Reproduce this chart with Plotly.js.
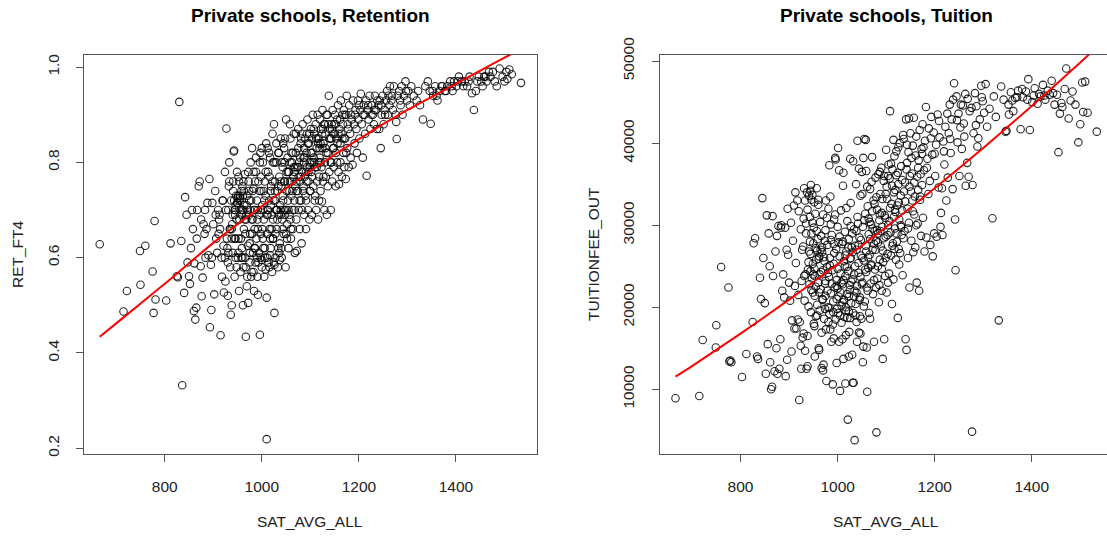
<!DOCTYPE html>
<html>
<head>
<meta charset="utf-8">
<script src="https://cdn.plot.ly/plotly-3.0.1.min.js"></script>
<style>
  html, body { margin: 0; padding: 0; overflow: hidden; background: #fff; }
  #chart { width: 1107px; height: 537px; }
</style>
</head>
<body>
<div id="chart"></div>
<script>
// SAT average of each private school (shared by both panels)
const satAvg = [
  666,715,722,749,750,760,775,777,779,781,
  803,812,825,827,830,834,836,840,842,845,
  847,850,852,854,856,858,860,861,863,865,
  867,870,872,874,875,876,878,880,882,884,
  886,888,890,892,893,895,896,898,900,902,
  904,906,908,910,912,914,915,917,919,921,
  922,924,925,927,928,930,931,933,934,936,
  937,938,940,941,942,943,944,945,946,947,
  948,949,950,951,952,953,954,955,956,957,
  958,959,960,961,962,963,964,965,966,967,
  968,969,970,971,972,973,974,975,976,977,
  978,979,980,981,982,983,984,985,986,987,
  988,989,990,991,992,993,994,995,996,997,
  998,999,1000,1001,1002,1003,1004,1005,1006,1007,
  1008,1009,1010,1010,1011,1012,1013,1014,1015,1016,
  1017,1018,1019,1020,1021,1022,1023,1024,1025,1026,
  1027,1028,1029,1030,1031,1032,1033,1034,1035,1036,
  1037,1038,1039,1040,1041,1042,1043,1044,1045,1046,
  1047,1048,1049,1050,1051,1052,1053,1054,1055,1056,
  1057,1058,1059,1060,1061,1062,1063,1064,1065,1066,
  1067,1068,1069,1070,1071,1072,1073,1074,1075,1076,
  1077,1078,1079,1080,1081,1082,1083,1084,1085,1086,
  1087,1088,1089,1090,1091,1092,1093,1094,1095,1096,
  1097,1098,1099,1100,1101,1102,1103,1104,1105,1106,
  1107,1108,1109,1110,1111,1112,1113,1114,1115,1116,
  1117,1118,1119,1120,1121,1122,1123,1124,1125,1126,
  1127,1128,1129,1130,1131,1132,1133,1134,1136,1138,
  1139,1140,1141,1142,1143,1144,1145,1146,1147,1148,
  1150,1151,1152,1153,1155,1156,1157,1158,1159,1160,
  1162,1163,1164,1165,1167,1168,1169,1170,1172,1173,
  1174,1175,1176,1178,1179,1180,1182,1183,1185,1187,
  1188,1190,1191,1193,1195,1196,1198,1199,1201,1203,
  1204,1206,1208,1210,1212,1213,1215,1216,1218,1220,
  1222,1224,1227,1229,1231,1233,1235,1237,1240,1242,
  1243,1245,1247,1249,1251,1253,1256,1258,1260,1263,
  1264,1267,1270,1272,1276,1277,1278,1280,1283,1286,
  1288,1290,1293,1296,1299,1302,1305,1308,1313,1319,
  1322,1326,1332,1337,1342,1346,1348,1353,1357,1362,
  1366,1372,1377,1382,1388,1393,1396,1401,1406,1412,
  1418,1423,1428,1433,1437,1441,1447,1452,1455,1458,
  1463,1468,1471,1476,1480,1484,1490,1496,1500,1504,
  1506,1510,1515,1534,
  926,929,932,935,939,943,946,949,952,955,
  958,960,963,966,969,972,975,978,981,984,
  986,988,991,993,995,998,1000,1002,1005,1008,
  1011,1013,1015,1018,1020,1022,1025,1027,1030,1032,
  1034,1036,1039,1041,1043,1046,1048,1051,1054,1057,
  1059,1062,1064,1067,1069,1072,1075,1078,1080,1083,
  1086,1088,1091,1093,1096,1099,1101,1104,1107,1110,
  1113,1116,1118,1121,1124,1127,1130,1133,1136,1139,
  1142,1145,1148,1152,1155,1158,1162,1166,1170,1174,
  950,951,953,955,946,944,938,940,935,931,
  905,911,918,924,930,938,952,962,970,985,
  992,998,1003,1016,1023,1031,1040,1047,1052,1060,
  866,883,897,913,920,933,945,960,976,983,
  996,1012,1026,1044,1053,1058,1115,1125,1135,1147,
  962,968,974,980,986,992,998,1004,1010,1016,
  1019,1023,1027,1031,1035,1039,1043,1047,1051,1055,
  1059,1063,1067,1071,1075,1079,1083,1087,1091,1095,
  1099,1103,1108,1112,1117,1121,1126,1131,1137,1143,
  941,944,948,953,957,961,965,970,974,979,
  1001,1006,1012,1017,1023,1028,1034,1039,1045,1050,
  1061,1066,1070,1076,1081,1087,1092,1098,1104,1119,
  1149,1154,1161,1166,1171,1177,1184,1192,1200,1209,
  1219,1226,1232,1238,1246,1254,1261,1268,1285,1297,
  1352,1360,1370,1380,1391,1404,1415,1426,1444,1461,
  958,967,975,983,990,1000,1008,1017,1026,1037
];

// RET_FT4 (retention), same order as satAvg
const retFt4 = [
  0.628,0.487,0.530,0.614,0.543,0.625,0.571,0.484,0.677,0.512,
  0.510,0.630,0.561,0.559,0.927,0.635,0.332,0.526,0.727,0.690,
  0.590,0.561,0.545,0.620,0.700,0.660,0.488,0.588,0.470,0.495,
  0.700,0.750,0.760,0.582,0.680,0.519,0.558,0.670,0.650,0.600,
  0.660,0.715,0.605,0.765,0.454,0.585,0.490,0.715,0.670,0.523,
  0.740,0.640,0.610,0.700,0.680,0.660,0.437,0.600,0.720,0.625,
  0.527,0.780,0.550,0.871,0.640,0.590,0.700,0.800,0.660,0.480,
  0.720,0.500,0.610,0.760,0.823,0.825,0.560,0.690,0.640,0.730,
  0.580,0.715,0.725,0.600,0.770,0.530,0.680,0.720,0.570,0.640,
  0.740,0.620,0.700,0.500,0.580,0.660,0.710,0.775,0.600,0.434,
  0.680,0.540,0.730,0.625,0.505,0.760,0.690,0.590,0.650,0.800,
  0.720,0.570,0.830,0.680,0.610,0.745,0.530,0.660,0.700,0.590,
  0.780,0.640,0.720,0.560,0.522,0.760,0.610,0.690,0.438,0.820,
  0.650,0.740,0.580,0.710,0.800,0.620,0.680,0.560,0.760,0.600,
  0.730,0.840,0.219,0.516,0.650,0.700,0.780,0.590,0.720,0.660,
  0.810,0.620,0.750,0.690,0.570,0.860,0.640,0.720,0.880,0.484,
  0.760,0.600,0.700,0.800,0.660,0.740,0.580,0.820,0.690,0.770,
  0.630,0.710,0.850,0.750,0.600,0.680,0.790,0.720,0.650,0.830,
  0.760,0.700,0.580,0.890,0.740,0.670,0.810,0.720,0.620,0.780,
  0.690,0.760,0.850,0.640,0.730,0.800,0.700,0.660,0.770,0.860,
  0.720,0.610,0.750,0.820,0.680,0.614,0.790,0.740,0.870,0.700,
  0.800,0.660,0.760,0.840,0.720,0.630,0.780,0.880,0.740,0.810,
  0.690,0.770,0.850,0.730,0.660,0.820,0.790,0.890,0.700,0.760,
  0.840,0.680,0.800,0.740,0.870,0.780,0.690,0.820,0.900,0.750,
  0.810,0.860,0.720,0.790,0.880,0.700,0.830,0.760,0.900,0.680,
  0.850,0.770,0.810,0.890,0.740,0.870,0.790,0.718,0.910,0.760,
  0.840,0.880,0.700,0.800,0.860,0.770,0.900,0.690,0.820,0.940,
  0.780,0.870,0.850,0.700,0.800,0.880,0.760,0.910,0.830,0.790,
  0.860,0.900,0.750,0.820,0.890,0.840,0.920,0.780,0.754,0.870,
  0.800,0.930,0.860,0.770,0.880,0.820,0.910,0.790,0.850,0.765,
  0.900,0.940,0.830,0.870,0.790,0.920,0.860,0.810,0.890,0.795,
  0.930,0.880,0.840,0.910,0.870,0.820,0.930,0.890,0.850,0.910,
  0.944,0.880,0.810,0.920,0.900,0.860,0.930,0.772,0.910,0.890,
  0.940,0.870,0.920,0.900,0.880,0.940,0.910,0.870,0.920,0.870,
  0.930,0.830,0.900,0.940,0.880,0.910,0.930,0.950,0.900,0.920,
  0.960,0.930,0.910,0.960,0.900,0.885,0.849,0.940,0.950,0.920,
  0.960,0.900,0.940,0.970,0.930,0.950,0.920,0.960,0.940,0.930,
  0.950,0.920,0.890,0.960,0.970,0.950,0.881,0.940,0.960,0.930,
  0.950,0.960,0.950,0.960,0.970,0.950,0.970,0.960,0.980,0.970,
  0.970,0.960,0.980,0.945,0.910,0.950,0.980,0.970,0.960,0.980,
  0.970,0.990,0.980,0.990,0.970,0.960,0.997,0.980,0.970,0.990,
  0.975,0.995,0.985,0.967,
  0.700,0.620,0.750,0.580,0.670,0.720,0.600,0.780,0.640,0.730,
  0.690,0.600,0.740,0.650,0.710,0.780,0.630,0.560,0.740,0.700,
  0.620,0.810,0.680,0.590,0.740,0.700,0.830,0.640,0.720,0.780,
  0.600,0.700,0.820,0.740,0.660,0.760,0.590,0.720,0.840,0.680,
  0.750,0.610,0.700,0.800,0.660,0.760,0.850,0.700,0.780,0.740,
  0.680,0.760,0.820,0.700,0.790,0.740,0.830,0.720,0.770,0.860,
  0.750,0.810,0.720,0.860,0.780,0.740,0.820,0.770,0.870,0.730,
  0.790,0.840,0.720,0.800,0.860,0.770,0.880,0.820,0.750,0.850,
  0.800,0.870,0.830,0.880,0.800,0.860,0.840,0.900,0.850,0.820,
  0.715,0.730,0.705,0.725,0.710,0.640,0.640,0.690,0.660,0.610,
  0.690,0.650,0.560,0.600,0.520,0.660,0.610,0.700,0.560,0.620,
  0.660,0.600,0.700,0.580,0.640,0.700,0.620,0.690,0.640,0.660,
  0.640,0.700,0.600,0.690,0.720,0.760,0.700,0.750,0.700,0.780,
  0.800,0.830,0.800,0.840,0.760,0.880,0.850,0.830,0.900,0.860,
  0.760,0.690,0.720,0.650,0.760,0.700,0.770,0.740,0.690,0.770,
  0.710,0.800,0.740,0.700,0.820,0.760,0.730,0.800,0.780,0.700,
  0.800,0.740,0.780,0.760,0.790,0.810,0.700,0.830,0.780,0.840,
  0.790,0.850,0.800,0.850,0.800,0.840,0.870,0.830,0.880,0.850,
  0.740,0.700,0.680,0.760,0.700,0.730,0.680,0.700,0.740,0.680,
  0.660,0.620,0.690,0.640,0.680,0.650,0.620,0.690,0.700,0.650,
  0.820,0.790,0.860,0.770,0.850,0.800,0.760,0.860,0.800,0.830,
  0.880,0.850,0.890,0.850,0.900,0.880,0.900,0.900,0.920,0.900,
  0.920,0.900,0.910,0.930,0.920,0.900,0.940,0.940,0.930,0.950,
  0.950,0.940,0.960,0.950,0.960,0.970,0.960,0.970,0.970,0.980,
  0.600,0.580,0.610,0.570,0.600,0.595,0.575,0.605,0.585,0.595
];

// TUITIONFEE_OUT, same order as satAvg
const tuitionOut = [
  8900,9180,16000,15100,17800,24900,22400,13400,13500,13300,
  11500,14300,18200,27800,28400,14000,13700,23600,21000,33300,
  26000,20500,11900,31200,15500,29000,25000,13300,10000,10300,
  23800,12200,26800,15000,28700,11900,29900,12500,16100,30000,
  22000,24000,21200,29700,11600,27000,13600,26400,23000,20800,
  30300,18400,28100,32400,22600,25400,17400,33000,21500,8700,
  18200,29500,12500,27000,16300,30800,34500,14700,24000,12500,
  34000,16500,25500,33600,22800,31000,26500,19400,29000,23500,
  33700,21800,27800,18000,24700,14000,31400,22500,25800,34500,
  20300,28300,23000,15000,26200,19600,30400,22200,24300,12600,
  27300,21000,31300,13000,18600,25600,22900,29400,17300,11000,
  24900,27600,20000,32000,23700,19200,26000,33500,21700,15800,
  28800,24500,10600,20700,25300,30700,22400,38200,18500,27100,
  23300,19800,29800,39400,21300,36700,26200,9800,24100,31800,
  20200,27700,22800,16100,34800,13700,25600,18800,29200,23800,
  19600,26800,21600,30500,6300,24400,28300,17000,22100,25900,
  32700,20500,27300,14200,23400,37800,10800,29500,3800,25000,
  19000,35000,27000,22600,40300,30200,24200,16900,28500,21200,
  33600,26300,18600,36500,23000,29800,15200,25700,40500,20700,
  31400,27500,36600,22400,9700,32300,24800,28900,19300,26400,
  34400,22900,30100,25200,38300,27000,21600,33000,15800,29300,
  24600,35800,28100,4750,31900,23500,27900,36200,20600,30600,
  25800,33800,27400,37000,22000,29800,13700,25500,35400,16100,
  31200,23800,28600,39200,21800,33200,26500,30000,37400,24100,
  35700,43900,29100,26300,32600,20400,36800,27800,23400,31000,
  38400,29600,34300,25800,39000,28000,32400,18700,35000,27100,
  30700,40000,26600,33600,37200,28800,31800,23900,40500,29300,
  35200,16100,42900,14800,37600,32000,26000,38900,30300,22400,
  41200,34100,28100,36300,39700,26700,43100,31300,33500,27300,
  40800,23000,35900,30200,37900,22000,41600,33100,28700,39300,
  34900,42300,30900,36700,26800,40300,44400,28500,38100,33800,
  41800,35400,27600,43200,38600,26200,41300,29000,36000,39800,
  28600,43500,34600,40700,29800,31500,34500,28800,40200,37400,
  42000,33000,35800,41200,44700,38800,42900,34400,47300,30700,
  24500,45700,40100,43600,36000,41900,39300,44600,42400,46000,
  34800,37600,35900,43900,44300,4834,34900,41200,46100,44500,
  39600,40600,42900,47000,45100,43700,47200,42000,44200,30850,
  45700,43200,18400,46900,45300,41400,41500,43500,46200,43900,
  45500,46400,41700,45600,46300,47800,41600,45000,46700,44800,
  45700,47100,45300,46400,45900,47600,44700,45900,38900,43600,
  44400,46600,49100,43000,45200,46300,44700,40100,42300,47400,
  43800,47500,43700,41400,
  23200,27400,20800,30200,24600,28000,22100,25300,32800,18900,
  26900,33100,24000,28700,20900,26100,23200,30900,18200,25100,
  28200,22900,19400,26600,31300,21000,24700,27900,19000,23000,
  28000,20900,25000,32100,18700,27300,22700,26000,29000,19300,
  24000,27500,21800,31000,25400,18900,28200,33800,20100,24600,
  26800,22000,30800,18600,25100,29600,23300,27000,33400,25000,
  22700,29300,31500,26900,36000,26000,34700,23000,30500,37500,
  27500,34000,31900,29000,36400,25200,30000,35500,28400,32900,
  36800,29600,34700,38200,31700,35200,30000,37000,33500,38700,
  24000,29700,21400,27200,33100,34200,31900,20100,29000,23800,
  14600,17400,18500,15300,16800,12800,17700,14800,12300,17300,
  16200,13200,15800,10700,14000,10800,15800,16800,13300,15100,
  31100,29700,32000,34000,31700,33000,34900,32500,33000,37300,
  38000,36400,38100,36900,38200,40400,40400,39500,41000,43000,
  21800,26700,19800,24200,30100,27700,22600,28600,20600,26300,
  24900,21300,29900,26700,22000,29300,27600,23700,26000,30600,
  24300,26100,28300,31700,27700,22400,29000,31300,24700,28400,
  33800,28800,32100,34800,27100,36100,32800,29800,34100,39800,
  26800,24400,30300,23800,29300,25900,27000,24500,28100,22000,
  19300,21800,23300,20000,19500,23100,21300,18200,20900,22800,
  34700,30400,35300,32600,29400,36500,33200,30900,36000,31600,
  36000,33000,38500,34300,36200,39500,37000,40600,38700,42700,
  39000,43600,40500,45300,42800,44700,40800,45400,42200,45600,
  44700,45200,45600,46600,45300,45800,46000,45800,46100,44900,
  19000,16900,21400,19900,17900,22300,18100,16600,18700,20400
];

// red fitted curves
const fitSat = [666, 700, 800, 900, 1000, 1100, 1200, 1300, 1400, 1500, 1534];
const fitRet = [0.434, 0.462, 0.545, 0.631, 0.708, 0.782, 0.849, 0.910, 0.965, 1.020, 1.037];
const fitTuition = [11540, 12830, 16780, 20920, 25250, 29780, 34500, 39410, 44520, 49830, 51680];

// tick labels
const satTicks = [800, 1000, 1200, 1400];
const retTicks = [0.2, 0.4, 0.6, 0.8, 1.0];
const retTickText = ['0.2', '0.4', '0.6', '0.8', '1.0'];
const tuitionTicks = [10000, 20000, 30000, 40000, 50000];
const tuitionTickText = ['10000', '20000', '30000', '40000', '50000'];

const n = Math.min(satAvg.length, retFt4.length, tuitionOut.length);
const W = 1107, H = 537;
const FONT = 'Liberation Sans, Arial, Helvetica, sans-serif';

// the right panel runs past the edge of the picture, so its x range is cut
const pxPerSat = 453.3 / 934;
const rightSatMax = 633 + (W - 659.5) / pxPerSat;

const pointStyle = {
    symbol: 'circle-open',
    size: 7.5,
    color: 'rgba(0,0,0,0.85)',
    line: { width: 1.1 }
};
const fitStyle = { color: '#ff0000', width: 2, shape: 'spline', smoothing: 0.6 };

const traces = [
    { type: 'scatter', mode: 'markers', x: satAvg.slice(0, n), y: retFt4.slice(0, n),
      xaxis: 'x', yaxis: 'y', marker: pointStyle, hoverinfo: 'x+y' },
    { type: 'scatter', mode: 'lines', x: fitSat, y: fitRet,
      xaxis: 'x', yaxis: 'y', line: fitStyle, hoverinfo: 'skip' },
    { type: 'scatter', mode: 'markers', x: satAvg.slice(0, n), y: tuitionOut.slice(0, n),
      xaxis: 'x2', yaxis: 'y2', marker: pointStyle, hoverinfo: 'x+y' },
    { type: 'scatter', mode: 'lines', x: fitSat, y: fitTuition,
      xaxis: 'x2', yaxis: 'y2', line: fitStyle, hoverinfo: 'skip' }
];

// R-like boxed axes
function axisBase() {
    return {
        showgrid: false,
        zeroline: false,
        showline: true,
        mirror: true,
        linecolor: '#555',
        linewidth: 1,
        ticks: 'outside',
        ticklen: 7,
        tickwidth: 1,
        tickcolor: '#555',
        tickfont: { family: FONT, size: 15.5, color: '#222' },
        fixedrange: true
    };
}

const yDomain = [1 - 454 / H, 1 - 54.5 / H];
const layout = {
    width: W,
    height: H,
    margin: { l: 0, r: 0, t: 0, b: 0, autoexpand: false },
    paper_bgcolor: '#fff',
    plot_bgcolor: '#fff',
    showlegend: false,
    font: { family: FONT, color: '#000' },
    xaxis: Object.assign(axisBase(), {
        domain: [83.7 / W, 537 / W], range: [633, 1567], anchor: 'y',
        tickmode: 'array', tickvals: satTicks, ticktext: satTicks.map(String),
        ticklabelstandoff: 11
    }),
    yaxis: Object.assign(axisBase(), {
        domain: yDomain, range: [0.1878, 1.0265], anchor: 'x',
        tickmode: 'array', tickvals: retTicks, ticktext: retTickText,
        tickangle: -90, ticklabelstandoff: 11
    }),
    xaxis2: Object.assign(axisBase(), {
        domain: [659.5 / W, 1], range: [633, rightSatMax], anchor: 'y2',
        tickmode: 'array', tickvals: satTicks, ticktext: satTicks.map(String),
        ticklabelstandoff: 11
    }),
    yaxis2: Object.assign(axisBase(), {
        domain: yDomain, range: [2110, 50805], anchor: 'x2', mirror: false,
        tickmode: 'array', tickvals: tuitionTicks, ticktext: tuitionTickText,
        tickangle: -90, ticklabelstandoff: 11
    }),
    annotations: [
        { text: '<b>Private schools, Retention</b>', x: 310 / W, y: 1 - 16 / H,
          font: { size: 19 } },
        { text: '<b>Private schools, Tuition</b>', x: 886 / W, y: 1 - 16 / H,
          font: { size: 19 } },
        { text: 'SAT_AVG_ALL', x: 310 / W, y: 1 - 521 / H, font: { size: 15.5, color: '#222' } },
        { text: 'SAT_AVG_ALL', x: 886 / W, y: 1 - 521 / H, font: { size: 15.5, color: '#222' } },
        { text: 'RET_FT4', x: 17 / W, y: 1 - 254 / H, textangle: -90,
          font: { size: 15.5, color: '#222' } },
        { text: 'TUITIONFEE_OUT', x: 593 / W, y: 1 - 254 / H, textangle: -90,
          font: { size: 15.5, color: '#222' } }
    ].map(a => Object.assign({
        xref: 'paper', yref: 'paper', showarrow: false,
        xanchor: 'center', yanchor: 'middle'
    }, a, { font: Object.assign({ family: FONT, color: '#000' }, a.font) }))
};

Plotly.newPlot('chart', traces, layout, { displayModeBar: false, staticPlot: true });
</script>
</body>
</html>
